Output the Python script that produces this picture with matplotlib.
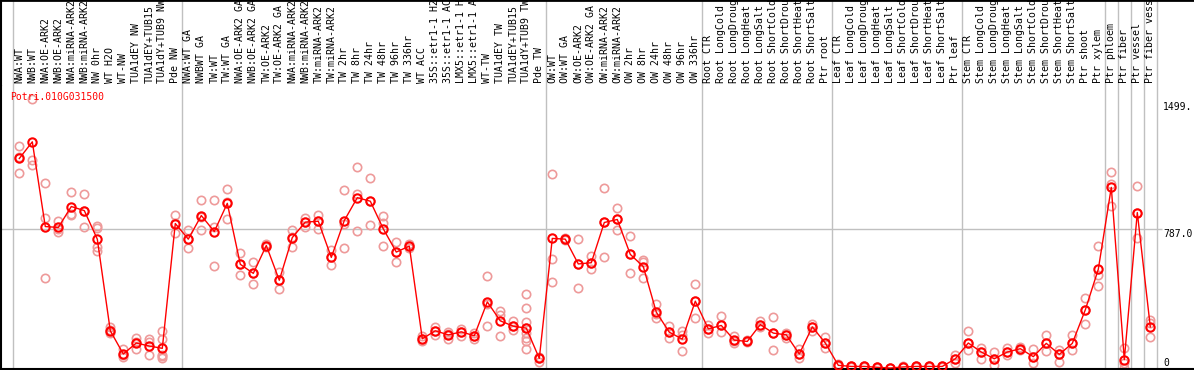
import numpy as np
import matplotlib
matplotlib.use("Agg")
import matplotlib.pyplot as plt

# sample names, in plot order
labels = [
    "NWA:WT", "NWB:WT", "NWA:OE-ARK2", "NWB:OE-ARK2", "NWA:miRNA-ARK2", "NWB:miRNA-ARK2",
    "NW 0hr", "WT H2O", "WT-NW", "TUA1dEY NW", "TUA1dEY+TUB15", "TUA1dY+TUB9 NW", "Pde NW",
    "NWA:WT GA", "NWBWT GA", "TW:WT", "TW:WT GA", "NWA:OE-ARK2 GA", "NWB:OE-ARK2 GA",
    "TW:OE-ARK2", "TW:OE-ARK2 GA", "NWA:miRNA-ARK2", "NWB:miRNA-ARK2", "TW:miRNA-ARK2",
    "TW:miRNA-ARK2", "TW 2hr", "TW 8hr", "TW 24hr", "TW 48hr", "TW 96hr", "TW 336hr",
    "WT ACC", "35S::etr1-1 H2", "35S::etr1-1 AC", "LMX5::etr1-1 H", "LMX5::etr1-1 A",
    "WT-TW", "TUA1dEY TW", "TUA1dEY+TUB15", "TUA1dY+TUB9 TW", "Pde TW",
    "OW:WT", "OW:WT GA", "OW:OE-ARK2", "OW:OE-ARK2 GA", "OW:miRNA-ARK2", "OW:miRNA-ARK2",
    "OW 2hr", "OW 8hr", "OW 24hr", "OW 48hr", "OW 96hr", "OW 336hr",
    "Root CTR", "Root LongCold", "Root LongDroug", "Root LongHeat", "Root LongSalt",
    "Root ShortCold", "Root ShortDrou", "Root ShortHeat", "Root ShortSalt", "Ptr root",
    "Leaf CTR", "Leaf LongCold", "Leaf LongDroug", "Leaf LongHeat", "Leaf LongSalt",
    "Leaf ShortCold", "Leaf ShortDrou", "Leaf ShortHeat", "Leaf ShortSalt", "Ptr leaf",
    "Stem CTR", "Stem LongCold", "Stem LongDroug", "Stem LongHeat", "Stem LongSalt",
    "Stem ShortCold", "Stem ShortDrou", "Stem ShortHeat", "Stem ShortSalt",
    "Ptr shoot", "Ptr xylem", "Ptr phloem", "Ptr fiber", "Ptr vessel", "Ptr fiber vess",
]

# mean expression per sample
means = [
    1182, 1276, 798, 793, 911, 888, 727, 210, 79, 141, 124, 111, 815,
    727, 860, 770, 929, 585, 534, 691, 495, 736, 823, 828, 624, 832, 961, 941, 785,
    654, 688, 165, 210, 187, 204, 182, 373, 266, 236, 225, 54,
    731, 727, 587, 594, 821, 838, 641, 572, 315, 202, 163, 377,
    221, 240, 157, 150, 245, 197, 187, 79, 232, 141,
    15, 9, 9, 4, 0, 6, 9, 9, 9, 52,
    141, 90, 52, 90, 109, 64, 139, 77, 139, 328, 557,
    1019, 47, 877, 232,
]

# replicate values per sample
reps = [
    [1254, 1102, 1190], [1520, 1171, 1143], [1046, 849, 506], [828, 765, 786],
    [995, 871, 866], [984, 796, 884], [800, 790, 680, 660], [234, 197, 215],
    [107, 62, 75], [169, 107, 144], [165, 144, 73], [210, 163, 75, 66, 56],
    [866, 759, 820],
    [778, 675, 727], [950, 778, 852], [950, 796, 575], [1012, 838, 937],
    [647, 525, 585], [596, 474, 534], [700, 690, 683], [543, 444, 495],
    [781, 684, 740], [847, 793, 826], [866, 787, 828], [665, 579, 624],
    [1006, 675, 815], [1132, 984, 774], [1074, 804, 941], [856, 819, 688],
    [710, 596, 654], [700, 690, 675], [150, 178, 165], [230, 187, 210],
    [204, 163, 190], [219, 182, 204], [200, 163, 182], [519, 238, 362],
    [322, 300, 182], [268, 212, 236], [418, 337, 260, 225, 197, 169, 150, 107],
    [32, 62, 54],
    [1096, 613, 484], [735, 727, 720], [725, 450, 587], [632, 558, 594],
    [1018, 624, 821], [900, 778, 838], [742, 538, 641], [609, 506, 600],
    [362, 281, 305], [238, 169, 202], [206, 97, 186], [472, 281, 377],
    [245, 200, 221], [294, 204, 240], [182, 141, 150], [158, 145, 150],
    [266, 230, 245], [287, 103, 197], [200, 167, 187], [107, 58, 79],
    [249, 210, 232], [174, 114, 141],
    [20, 9, 15], [12, 7, 9], [12, 6, 9], [6, 2, 4], [1, 0, 0], [9, 4, 6],
    [12, 7, 9], [12, 7, 9], [12, 7, 9], [73, 28, 52],
    [210, 103, 141], [111, 51, 90], [88, 19, 52], [112, 73, 90], [116, 104, 109],
    [107, 28, 64], [186, 96, 139], [103, 32, 77], [186, 103, 139], [394, 249, 328],
    [688, 525, 463],
    [1108, 1040, 913], [112, 28, 0], [1025, 731, 877], [272, 253, 174],
]

# group separators (between sample indices)
breaks = [-0.5, 12.5, 40.5, 52.5, 62.5, 72.5, 83.5, 84.5, 85.5, 86.5, 87.5]

gene = "Potri.010G031500"
ytick_vals = [1499, 787, 0]
ytick_text = ["1499.", "787.0", "0"]

W, H = 1194, 370
x0, dx = 19.3, 13.0   # pixel position of first sample, pixel step
xlim = ((1 - x0) / dx, (W - x0) / dx)
grey = "#c0c0c0"

fig = plt.figure(figsize=(W / 100, H / 100), dpi=100)
plt.rcParams["font.family"] = "DejaVu Sans Mono"

# main plot
ax = fig.add_axes([1 / W, 1 / H, (W - 1) / W, 284 / H])
ax.set_xlim(*xlim)
ax.set_ylim(-5.6, 1596.6)
for s in ["right", "top"]:
    ax.spines[s].set_visible(False)
ax.spines["left"].set_linewidth(1.5)
ax.spines["bottom"].set_linewidth(1.5)
ax.set_xticks([])
ax.set_yticks([])

xr = (1163 - x0) / dx
for b in breaks:
    ax.axvline(b, color=grey, lw=1, zorder=1)
ax.hlines(787, xlim[0], xr - 0.1, color=grey, lw=1, zorder=1)

for i, r in enumerate(reps):
    ax.plot([i] * len(r), r, "o", ms=6, mfc="none", mec="#ee9a9a", mew=1.2, zorder=2)
idx = np.arange(len(means))
ax.plot(idx, means, "-", color="red", lw=1, zorder=3)
ax.plot(idx, means, "o", ms=6, mfc="none", mec="red", mew=1.5, zorder=4)

for v, t in zip(ytick_vals, ytick_text):
    ax.text(xr, v, t, fontsize=7, ha="left", va="bottom" if v == 0 else "top", color="black")

fig.text(10 / W, 1 - 97 / H, gene, color="red", fontsize=7, ha="left", va="center")

# label strip at the top
lx = fig.add_axes([1 / W, 285 / H, (W - 1) / W, 85 / H])
lx.set_xlim(*xlim)
lx.set_ylim(0, 85)
lx.set_xticks([])
lx.set_yticks([])
lx.spines["right"].set_visible(False)
lx.spines["bottom"].set_visible(False)
lx.spines["top"].set_linewidth(2)
lx.spines["left"].set_linewidth(1.5)
for b in breaks:
    lx.axvline(b, color=grey, lw=1)
for i, lab in enumerate(labels):
    lx.text(i, 2, lab, rotation=90, ha="center", va="bottom", fontsize=7.1, clip_on=True)

fig.savefig("out.png", dpi=100)
